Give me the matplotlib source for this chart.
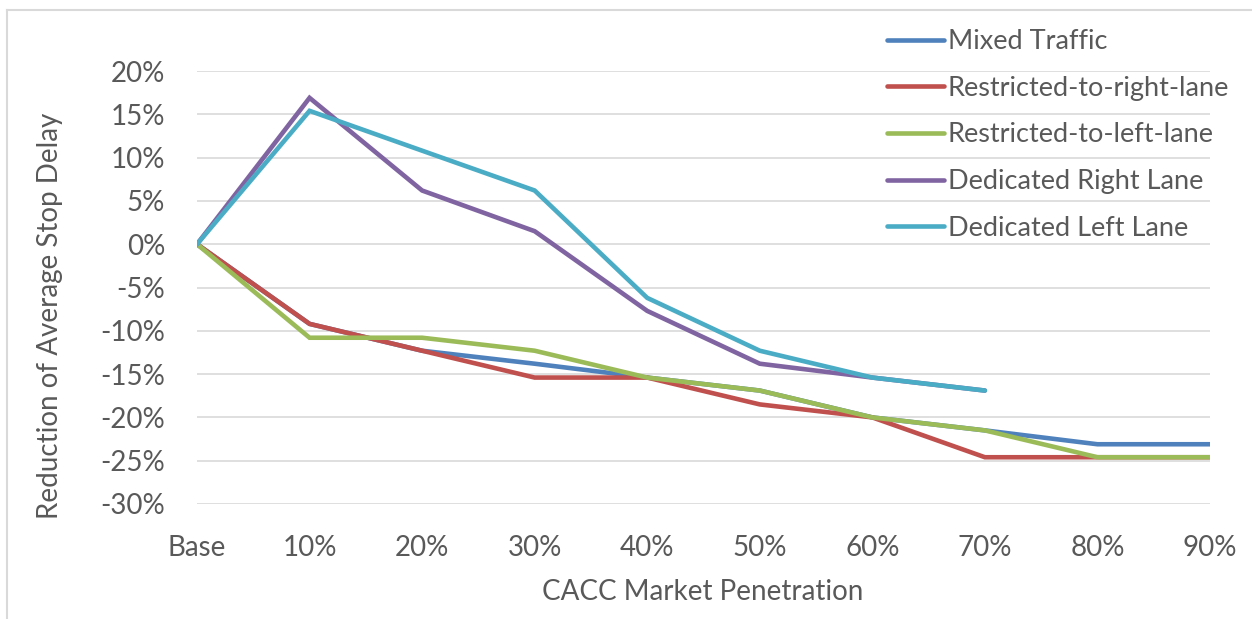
import numpy as np
import matplotlib
matplotlib.use("Agg")
import matplotlib.pyplot as plt
from matplotlib.ticker import FuncFormatter
from matplotlib.lines import Line2D

# data (% reduction of average stop delay)
categories = ['Base', '10%', '20%', '30%', '40%', '50%', '60%', '70%', '80%', '90%']
mixed = [0, -9.2, -12.3, -13.8, -15.4, -16.9, -20.0, -21.5, -23.1, -23.1]
restr_right = [0, -9.2, -12.3, -15.4, -15.4, -18.5, -20.0, -24.6, -24.6, -24.6]
restr_left = [0, -10.8, -10.8, -12.3, -15.4, -16.9, -20.0, -21.5, -24.6, -24.6]
ded_right = [0, 16.9, 6.2, 1.5, -7.7, -13.8, -15.4, -16.9]
ded_left = [0, 15.4, 10.8, 6.2, -6.2, -12.3, -15.4, -16.9]

series = [
    ('Mixed Traffic', mixed, '#4F81BD'),
    ('Restricted-to-right-lane', restr_right, '#C0504D'),
    ('Restricted-to-left-lane', restr_left, '#9BBB59'),
    ('Dedicated Right Lane', ded_right, '#8064A2'),
    ('Dedicated Left Lane', ded_left, '#4BACC6'),
]

plt.rcParams['font.family'] = ['Lato', 'DejaVu Sans']
txt = '#595959'
W, H = 1252, 619
fs = 20

fig = plt.figure(figsize=(W / 100, H / 100), dpi=100)
ax = fig.add_axes([197 / W, 1 - 504 / H, (1210 - 197) / W, (504 - 71) / H])

x = np.arange(len(categories))
for name, vals, col in series:
    ax.plot(x[:len(vals)], vals, color=col, lw=3.3, label=name,
            solid_capstyle='round', solid_joinstyle='miter', zorder=3)

ax.set_xlim(0, len(categories) - 1)
ax.set_ylim(-30, 20)
ax.set_yticks(np.arange(-30, 21, 5))
ax.yaxis.set_major_formatter(FuncFormatter(lambda v, p: '%d%%' % int(round(v))))
ax.set_xticks(x)
ax.set_xticklabels(categories)
ax.grid(axis='y', color='#D9D9D9', lw=1.2, zorder=0)
for s in ax.spines.values():
    s.set_visible(False)
ax.tick_params(length=0, labelsize=fs, labelcolor=txt)
ax.tick_params(axis='y', pad=23)
ax.tick_params(axis='x', pad=22)

fig.text(703 / W, 1 - 592 / H, 'CACC Market Penetration', fontsize=fs, color=txt,
         ha='center', va='center')
fig.text(50 / W, 1 - 316 / H, 'Reduction of Average Stop Delay', rotation=90,
         fontsize=fs, color=txt, ha='center', va='center')

leg = ax.legend(loc='upper left', bbox_to_anchor=(887 / W, 1 - 29 / H),
                bbox_transform=fig.transFigure, frameon=False, fontsize=19.5,
                handlelength=2.1, handletextpad=0.15, labelspacing=0.8,
                borderaxespad=0, borderpad=0)
for t in leg.get_texts():
    t.set_color(txt)

# chart border (left and top visible)
fig.add_artist(Line2D([7 / W, 7 / W], [0, 1 - 10 / H], color='#D9D9D9', lw=1.5,
                      transform=fig.transFigure))
fig.add_artist(Line2D([7 / W, 1], [1 - 10 / H, 1 - 10 / H], color='#D9D9D9', lw=1.5,
                      transform=fig.transFigure))

fig.savefig('out.png', dpi=100)
